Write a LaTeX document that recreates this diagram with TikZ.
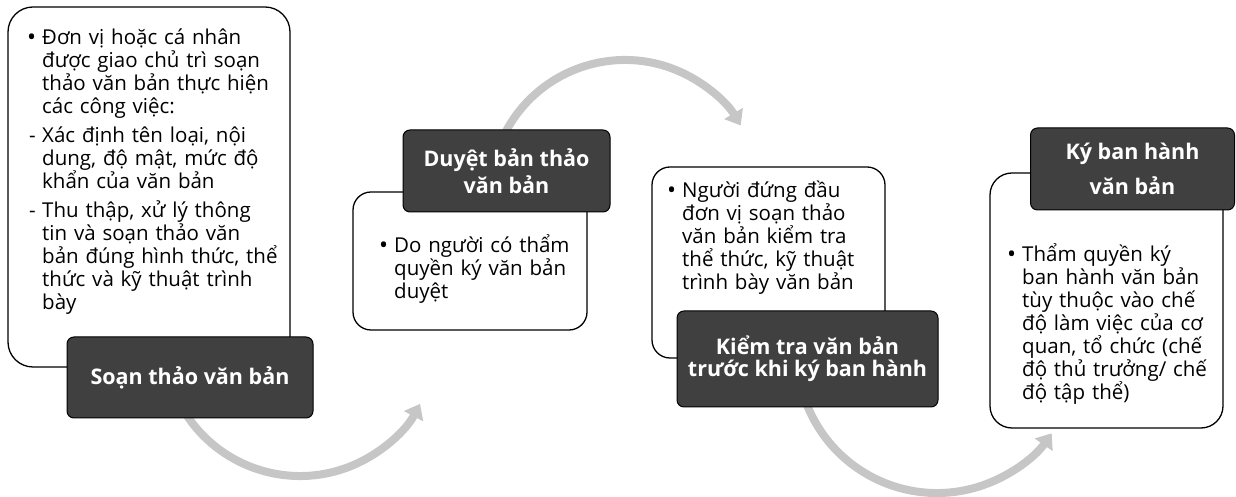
\documentclass[tikz,border=0pt]{standalone}
\usepackage{fontspec}
\setmainfont{Open Sans}
\usetikzlibrary{arrows.meta}
\definecolor{darkbox}{HTML}{404040}
\definecolor{flowgray}{HTML}{C6C6C6}
\newcommand{\bulletmark}{\makebox[13pt][l]{\hspace*{-2pt}\raisebox{-1pt}{\fontsize{24}{24}\selectfont\textbullet}}}
\newcommand{\dashmark}{\makebox[13pt][l]{-}}
\newcommand{\indentmark}{\hspace*{13pt}}
\begin{document}
\begin{tikzpicture}[x=1pt,y=1pt,
  whitebox/.style={draw=black, line width=1.3pt, fill=white, rounded corners=#1, inner sep=0pt},
  titlebox/.style={draw=black, line width=1pt, fill=darkbox, rounded corners=7pt, text=white, align=center, inner sep=0pt},
  bodytext/.style={anchor=base west, inner sep=0pt, text width=300pt, align=left, font=\fontsize{20.5}{23}\selectfont},
  flow/.style={draw=flowgray, line width=8pt, -{Triangle[length=14pt,width=21pt]}}]
\useasboundingbox (0,0) rectangle (1236,497);

% circle centres of the curved flow arrows
\coordinate (c1) at (300,157);
\coordinate (c2) at (625,302);
\coordinate (c3) at (937,144);

\draw[flow] ([shift={(205:136)}]c1) arc[start angle=205, end angle=332, radius=136];
\draw[flow] ([shift={(155:135)}]c2) arc[start angle=155, end angle=31, radius=135];
\draw[flow] ([shift={(200:140)}]c3) arc[start angle=200, end angle=325, radius=140];

% white boxes
\node[whitebox=25pt, minimum width=282pt, minimum height=360pt] (w1) at (149,310) {};
\node[whitebox=18pt, minimum width=234pt, minimum height=138pt] (w2) at (470,236) {};
\node[whitebox=18pt, minimum width=233pt, minimum height=191pt] (w3) at (768.5,234.5) {};
\node[whitebox=22pt, minimum width=233pt, minimum height=255pt] (w4) at (1106.5,196.5) {};

% body texts
\node[bodytext] (t1) at (29,452) {\bulletmark Đơn vị hoặc cá nhân\\
\indentmark được giao chủ trì soạn\\
\indentmark thảo văn bản thực hiện\\
\indentmark các công việc:\\[6pt]
\dashmark Xác định tên loại, nội\\
\indentmark dung, độ mật, mức độ\\
\indentmark khẩn của văn bản\\[6pt]
\dashmark Thu thập, xử lý thông\\
\indentmark tin và soạn thảo văn\\
\indentmark bản đúng hình thức, thể\\
\indentmark thức và kỹ thuật trình\\
\indentmark bày};

\node[bodytext] (t2) at (381,244) {\bulletmark Do người có thẩm\\
\indentmark quyền ký văn bản\\
\indentmark duyệt};

\node[bodytext] (t3) at (669,299) {\bulletmark Người đứng đầu\\
\indentmark đơn vị soạn thảo\\
\indentmark văn bản kiểm tra\\
\indentmark thể thức, kỹ thuật\\
\indentmark trình bày văn bản};

\node[bodytext] (t4) at (1009,235) {\bulletmark Thẩm quyền ký\\
\indentmark ban hành văn bản\\
\indentmark tùy thuộc vào chế\\
\indentmark độ làm việc của cơ\\
\indentmark quan, tổ chức (chế\\
\indentmark độ thủ trưởng/ chế\\
\indentmark độ tập thể)};

% dark title boxes
\node[titlebox, minimum width=246pt, minimum height=81pt, font=\bfseries\fontsize{21.5}{25}\selectfont] (s1) at (190,119.5) {Soạn thảo văn bản};
\node[titlebox, minimum width=207pt, minimum height=82pt, font=\bfseries\fontsize{21.5}{27}\selectfont] (s2) at (506.5,326) {Duyệt bản thảo\\văn bản};
\node[titlebox, minimum width=261pt, minimum height=96pt, font=\bfseries\fontsize{21.5}{22}\selectfont] (s3) at (807.5,138) {Kiểm tra văn bản\\trước khi ký ban hành};
\node[titlebox, minimum width=204pt, minimum height=82pt, font=\bfseries\fontsize{21.5}{35}\selectfont] (s4) at (1132.5,328) {Ký ban hành\\văn bản};
\end{tikzpicture}
\end{document}
